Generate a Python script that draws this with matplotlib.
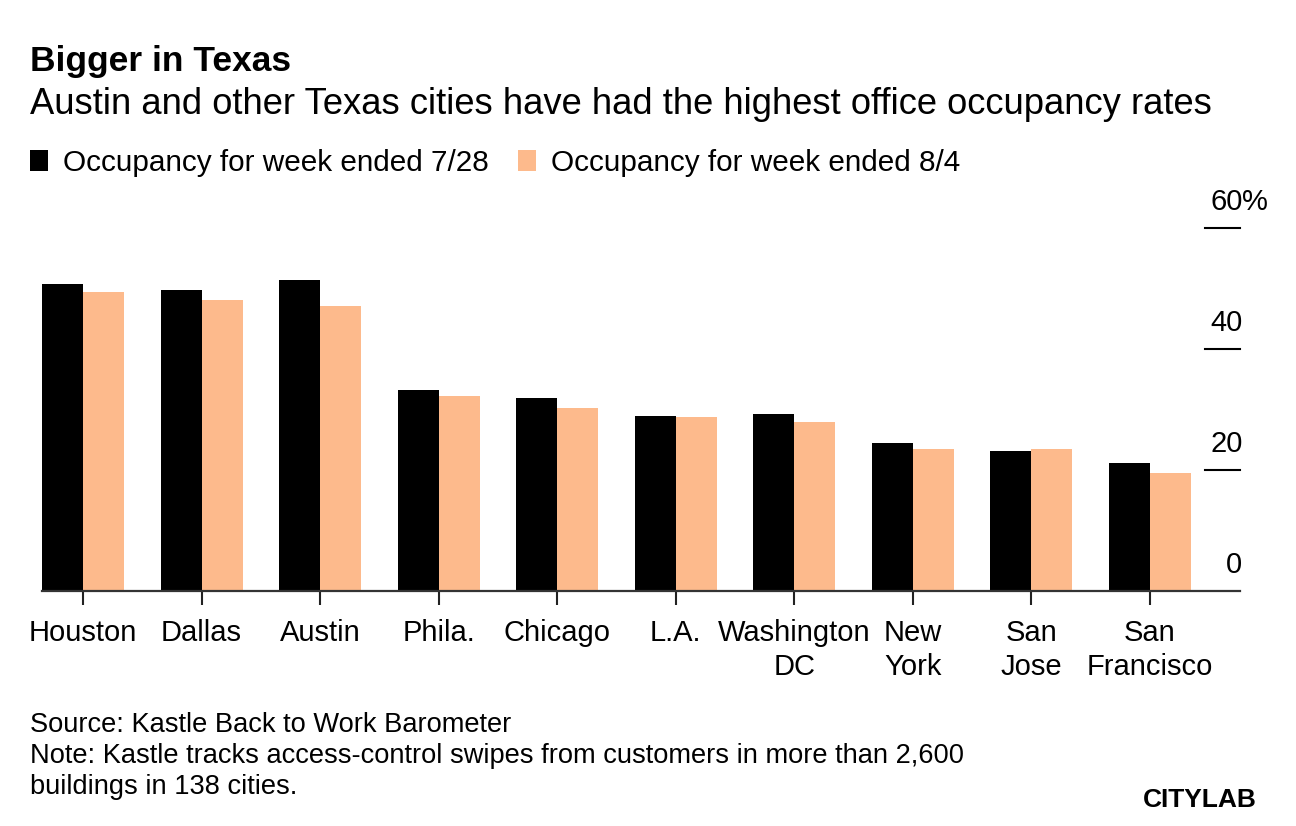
import matplotlib
matplotlib.use("Agg")
import matplotlib.pyplot as plt
import numpy as np

plt.rcParams["font.family"] = ["Liberation Sans", "DejaVu Sans"]

cities = ["Houston", "Dallas", "Austin", "Phila.", "Chicago", "L.A.",
          "Washington\nDC", "New\nYork", "San\nJose", "San\nFrancisco"]
week_0728 = [50.8, 49.8, 51.4, 33.3, 31.9, 29.0, 29.3, 24.4, 23.1, 21.2]
week_0804 = [49.5, 48.2, 47.2, 32.3, 30.3, 28.7, 28.0, 23.5, 23.5, 19.5]
yticks = [0, 20, 40, 60]
series_names = ["Occupancy for week ended 7/28", "Occupancy for week ended 8/4"]

BLACK = "#000000"
PEACH = "#fdba8c"

fig = plt.figure(figsize=(12.96, 8.26), dpi=100)
ax = fig.add_axes([42 / 1296, 1 - 591 / 826, 1198 / 1296, 393 / 826])

x = np.arange(len(cities))
w = 0.346
b1 = ax.bar(x - w / 2, week_0728, w, color=BLACK, zorder=2)
b2 = ax.bar(x + w / 2, week_0804, w, color=PEACH, zorder=2)

ax.set_xlim(-w, 9.76)
ax.set_ylim(0, 65)

for s in ["left", "right", "top"]:
    ax.spines[s].set_visible(False)
ax.spines["bottom"].set_color("#333333")
ax.spines["bottom"].set_linewidth(1.6)

ax.set_xticks(x)
ax.set_xticklabels(cities, fontsize=21, linespacing=1.3)
ax.tick_params(axis="x", length=10, width=1.5, color="#222222", pad=10)
ax.set_yticks([])

# right-side value scale: short rules with labels sitting above them
yt = ax.get_yaxis_transform()
for v in yticks:
    if v > 0:
        ax.plot([0.971, 1.0], [v, v], transform=yt, color="#000000", lw=1.5,
                clip_on=False, zorder=3)
    ax.annotate(str(v), xy=(1.002, v), xycoords=yt, xytext=(0, 19),
                textcoords="offset points", ha="right", va="center",
                fontsize=21, annotation_clip=False)
    if v == yticks[-1]:
        ax.annotate("%", xy=(1.002, v), xycoords=yt, xytext=(0, 19),
                    textcoords="offset points", ha="left", va="center",
                    fontsize=21, annotation_clip=False)

fig.text(30 / 1296, 1 - 62 / 826, "Bigger in Texas", fontsize=25.5,
         fontweight="bold", va="center", ha="left")
fig.text(30 / 1296, 1 - 104 / 826,
         "Austin and other Texas cities have had the highest office occupancy rates",
         fontsize=26.2, va="center", ha="left")

fig.legend([b1, b2], series_names, loc="center left",
           bbox_to_anchor=(30 / 1296, 1 - 163 / 826), ncol=2, frameon=False,
           fontsize=21.4, handlelength=0.6, handleheight=0.72,
           handletextpad=0.5, columnspacing=1.0, borderpad=0,
           borderaxespad=0)

footer = ["Source: Kastle Back to Work Barometer",
          "Note: Kastle tracks access-control swipes from customers in more than 2,600",
          "buildings in 138 cities."]
for i, line in enumerate(footer):
    fig.text(30 / 1296, 1 - (725 + 31 * i) / 826, line, fontsize=19.6,
             va="center", ha="left")

fig.text(1257 / 1296, 1 - 800 / 826, "CITYLAB", fontsize=19, fontweight="heavy",
         va="center", ha="right")

fig.savefig("out.png", dpi=100)
